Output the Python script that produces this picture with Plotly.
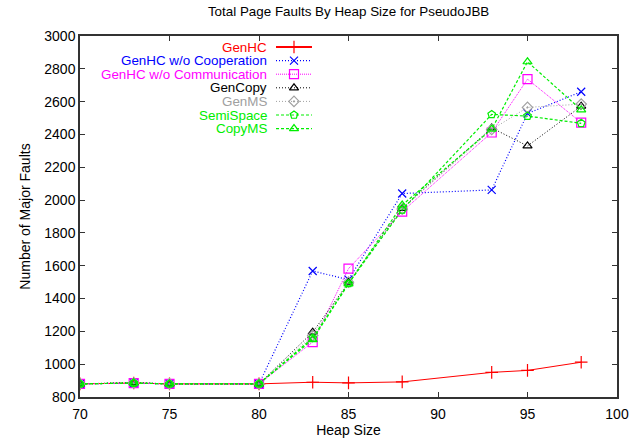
import plotly.graph_objects as go

heap_size = [70, 73, 75, 80, 83, 85, 88, 93, 95, 98]

genhc = [880, 885, 880, 880, 890, 886, 892, 950, 962, 1012]
genhc_no_coop = [880, 885, 880, 880, 1568, 1515, 2040, 2062, 2528, 2660]
genhc_no_comm = [880, 885, 880, 880, 1135, 1582, 1930, 2412, 2737, 2472]
gencopy = [880, 888, 880, 880, 1195, 1500, 1950, 2440, 2330, 2572]
genms = [880, 885, 880, 880, 1175, 1500, 1945, 2430, 2565, 2585]
semispace = [880, 885, 880, 880, 1160, 1492, 1940, 2522, 2512, 2468]
copyms = [880, 885, 880, 880, 1150, 1490, 1970, 2432, 2843, 2550]

series_names = ["GenHC", "GenHC w/o Cooperation", "GenHC w/o Communication",
                "GenCopy", "GenMS", "SemiSpace", "CopyMS"]
series_values = [genhc, genhc_no_coop, genhc_no_comm, gencopy, genms, semispace, copyms]

styles = [
    dict(color="#ff0000", dash="solid", symbol="cross-thin-open", size=9, width=1),
    dict(color="#0000ff", dash="1px,2px", symbol="x-thin-open", size=8, width=1.2),
    dict(color="#ff00ff", dash="1px,1px", symbol="square-open", size=9, width=1),
    dict(color="#000000", dash="1px,2px", symbol="triangle-up-open", size=8, width=1),
    dict(color="#a0a0a0", dash="1px,2px", symbol="diamond-open-dot", size=8, width=1),
    dict(color="#00ee00", dash="3px,2px", symbol="pentagon-open", size=8, width=1.2),
    dict(color="#00ee00", dash="3px,2px", symbol="triangle-up-open", size=8, width=1.2),
]

FONT = "Liberation Sans"

fig = go.Figure()
for name, vals, st in zip(series_names, series_values, styles):
    fig.add_trace(go.Scatter(
        x=heap_size, y=vals, mode="lines+markers", name=name,
        line=dict(color=st["color"], dash=st["dash"], width=st["width"]),
        marker=dict(symbol=st["symbol"], size=st["size"], color=st["color"],
                    line=dict(color=st["color"], width=1.2)),
        showlegend=False,
    ))

# gnuplot-style key: right-aligned text followed by a sample line with its marker
annotations = []
for i, (name, st) in enumerate(zip(series_names, styles)):
    fig.add_trace(go.Scatter(
        x=[0, 1], y=[i, i], mode="lines", xaxis="x2", yaxis="y2",
        line=dict(color=st["color"], dash=st["dash"], width=st["width"] + (0.8 if i == 0 else 0)),
        showlegend=False, hoverinfo="skip",
    ))
    fig.add_trace(go.Scatter(
        x=[0.5], y=[i], mode="markers", xaxis="x2", yaxis="y2",
        marker=dict(symbol=st["symbol"], size=st["size"], color=st["color"],
                    line=dict(color=st["color"], width=1.2)),
        showlegend=False, hoverinfo="skip",
    ))
    annotations.append(dict(
        x=0, y=i, xref="x2", yref="y2", text=name, showarrow=False,
        xanchor="right", yanchor="middle", xshift=-8, borderpad=0,
        font=dict(color=st["color"], size=13.4, family=FONT),
    ))

axis_common = dict(
    showline=True, linecolor="#333333", linewidth=1.5, mirror="ticks",
    ticks="inside", ticklen=5, tickcolor="#333333", showgrid=False, zeroline=False,
    tickfont=dict(size=14, family=FONT, color="black"), automargin=False,
)

fig.update_layout(
    width=639, height=441,
    margin=dict(l=80, r=22, t=36, b=44),
    paper_bgcolor="white", plot_bgcolor="rgba(0,0,0,0)",
    title=dict(text="Total Page Faults By Heap Size for PseudoJBB", x=0.5455, xanchor="center",
               y=0.984, yanchor="top", automargin=False,
               font=dict(size=13.4, family=FONT, color="black")),
    xaxis=dict(range=[70, 100], tick0=70, dtick=5, ticklabelstandoff=3,
               title=dict(text="Heap Size", font=dict(size=14, family=FONT, color="black"),
                          standoff=4),
               **axis_common),
    yaxis=dict(range=[800, 3000], tick0=800, dtick=200,
               title=dict(text="Number of Major Faults", font=dict(size=14, family=FONT, color="black"),
                          standoff=10),
               **axis_common),
    xaxis2=dict(domain=[0.365, 0.432], range=[0, 1], visible=False, anchor="y2", fixedrange=True),
    yaxis2=dict(domain=[0, 1], range=[25.735, -0.809], visible=False, anchor="x2", fixedrange=True),
    annotations=annotations,
    showlegend=False,
)

fig.write_html("out.html")
